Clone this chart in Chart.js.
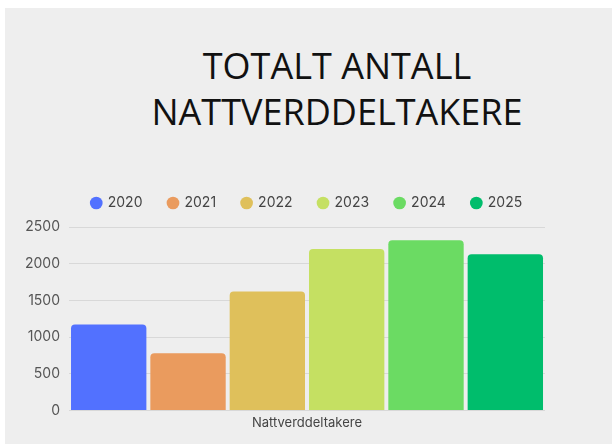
<!DOCTYPE html>
<html lang="no">
<head>
  <meta charset="UTF-8" />
  <title>Totalt antall nattverddeltakere</title>
  <script src="https://cdn.jsdelivr.net/npm/chart.js"></script>
  <style>
    * { margin: 0; padding: 0; box-sizing: border-box; }
    body { width: 612px; height: 444px; background: #ffffff; overflow: hidden; position: relative; }

    .panel {
      position: absolute; left: 5px; top: 8px; right: 0; bottom: 0;
      background: #eeeeee;
    }

    .title {
      position: absolute; left: 5px; top: 43px; width: 664px;
      text-align: center; font-family: "Open Sans", sans-serif;
      font-size: 36px; line-height: 46px; color: #111; font-weight: 400;
    }

    .chart-box {
      position: absolute; left: 5px; top: 170px; width: 607px; height: 258px;
    }
  </style>
</head>
<body>
  <div class="panel"></div>
  <div class="title">TOTALT ANTALL<br>NATTVERDDELTAKERE</div>
  <div class="chart-box"><canvas id="chart"></canvas></div>

  <script>
    const categories = ["Nattverddeltakere"];
    const years = ["2020", "2021", "2022", "2023", "2024", "2025"];
    const values = [1170, 780, 1620, 2200, 2320, 2130];
    const colors = ["#5271ff", "#ea9b5e", "#dfc05b", "#c5e062", "#6bdb63", "#00bd6c"];

    const datasets = years.map((y, i) => ({
      label: y,
      data: [values[i]],
      backgroundColor: colors[i],
      borderRadius: { topLeft: 4, topRight: 4 },
      borderSkipped: "bottom",
      barPercentage: 0.95,
      categoryPercentage: 1.0
    }));

    // legend sits a bit higher above the plot and is centred on the panel
    const legendTweak = {
      id: "legendTweak",
      beforeInit(chart) {
        const fit = chart.legend.fit;
        chart.legend.fit = function () {
          fit.call(this);
          this.height += 7;
        };
      },
      afterLayout(chart) {
        const l = chart.legend;
        const shift = 302 - (l.left + l.right) / 2;
        l.left += shift;
        l.right += shift;
      }
    };

    new Chart(document.getElementById("chart"), {
      type: "bar",
      data: { labels: categories, datasets: datasets },
      plugins: [legendTweak],
      options: {
        responsive: true,
        maintainAspectRatio: false,
        animation: false,
        layout: { padding: { left: 11, right: 67, bottom: 0, top: 0 } },
        plugins: {
          legend: {
            labels: {
              usePointStyle: true,
              pointStyle: "circle",
              boxWidth: 9,
              boxHeight: 9,
              padding: 26,
              color: "#444",
              font: { family: "Inter", size: 14 }
            }
          },
          tooltip: { enabled: false }
        },
        scales: {
          x: {
            grid: { display: false },
            border: { display: false },
            ticks: { color: "#444", font: { family: "Inter", size: 13 }, padding: -3 }
          },
          y: {
            min: 0,
            max: 2500,
            ticks: {
              stepSize: 500, color: "#555", padding: 9,
              font: { family: "Inter", size: 14 },
              callback: v => String(v)
            },
            grid: { color: "#d8d8d8", drawTicks: false },
            border: { display: false }
          }
        }
      }
    });
  </script>
</body>
</html>
